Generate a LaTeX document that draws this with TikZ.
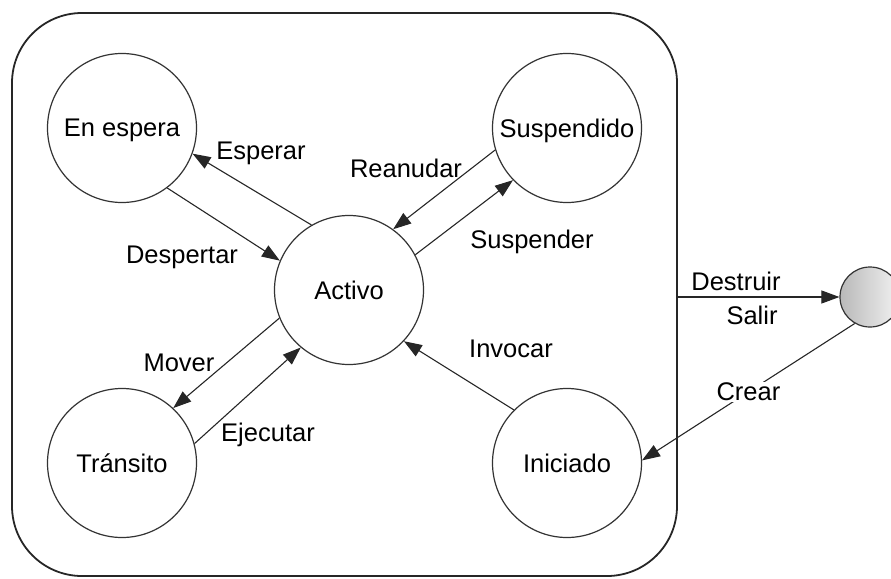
\documentclass[tikz,border=0pt]{standalone}
\usepackage{fontspec}
\setmainfont{Liberation Sans}
\usetikzlibrary{arrows.meta}

\tikzset{
  estado/.style={circle,draw=black!80,line width=1.2pt,minimum size=149pt,inner sep=0pt,
    font=\fontsize{25.5}{30}\selectfont,text depth=0pt},
  etiq/.style={font=\fontsize{25.5}{30}\selectfont,inner sep=1pt,anchor=base},
  flecha/.style={draw=black!85,line width=1.1pt,-{Triangle[length=18pt,width=13pt]}}
}

\begin{document}
\begin{tikzpicture}[x=1pt,y=-1pt]
\useasboundingbox (0,0) rectangle (891,578);
\node[draw=black!85,line width=1.8pt,rounded corners=70pt,minimum width=665pt,
  minimum height=563pt] (marco) at (344.5,294.5) {};
\foreach \n/\x/\y/\t in {ee/122/128/En espera,su/567/128/Suspendido,ac/349/290/Activo,
  tr/122/463/Tránsito,ini/567/463/Iniciado}
  \node[estado] (\n) at (\x,\y) {\t};
\node[circle,draw=black!80,line width=1.2pt,minimum size=60pt,
  left color=gray!55,right color=gray!10] (fin) at (870,297) {};
\foreach \a/\b in {ac.120/ee.-20,ee.-53/ac.157,su.197/ac.54,ac.28/su.224,
  ac.202/tr.47,tr.15/ac.230,ini.135/ac.-43}
  \draw[flecha] (\a) -- (\b);
\foreach \n/\x/\y/\t in {lesp/261/159/Esperar,ldes/182/263/Despertar,lrea/406/177/Reanudar,
  lsus/532/248/Suspender,lmov/179/371/Mover,leje/268/441/Ejecutar,linv/511/357/Invocar,
  ldst/736/290/Destruir,lsal/752/324/Salir}
  \node[etiq] (\n) at (\x,\y) {\t};
\draw[flecha] (fin -| marco.east) -- (fin);
\draw[flecha] (fin.240) -- node[etiq,anchor=center,fill=white] (lcre) {Crear} (ini.2);
\end{tikzpicture}
\end{document}
